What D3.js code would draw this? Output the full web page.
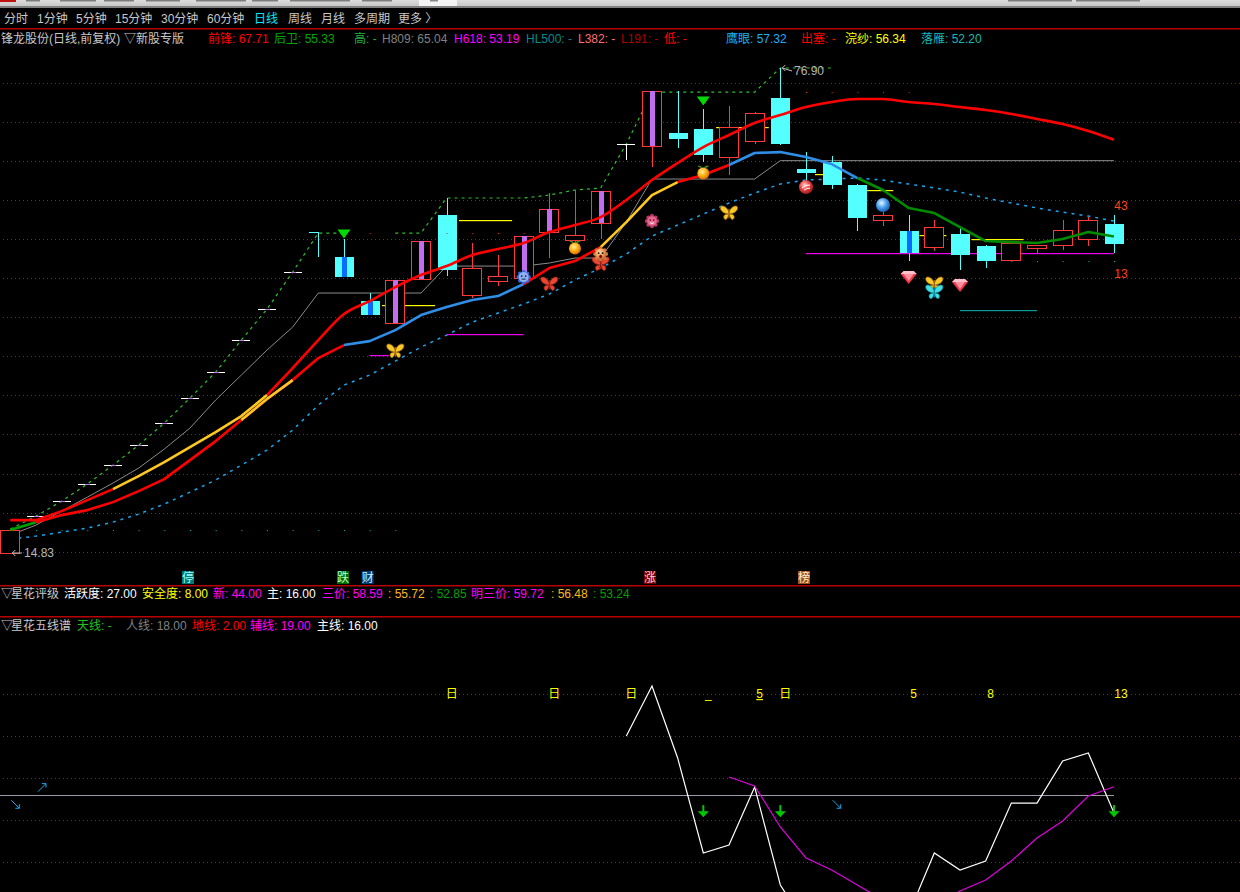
<!DOCTYPE html>
<html><head><meta charset="utf-8">
<style>html,body{margin:0;padding:0;background:#000;overflow:hidden}svg{display:block}
text{font-family:"Liberation Sans","Noto Sans CJK SC",sans-serif;font-size:12px}</style>
<script src="https://cdn.jsdelivr.net/npm/d3@7/dist/d3.min.js"></script></head><body><div id="c"></div>
<script>
// ---------- data ----------
const opens =[14.83,19.55,21.47,23.65,26.08,28.64,31.46,34.66,37.98,42.08,46.05,50.78,55.9,52.7,47.07,44.26,49.89,58.08,47.84,49.63,50.02,55.9,54.88,57.06,67.17,66.91,68.58,69.09,65.5,67.55,73.06,63.97,64.86,61.92,57.44,56.03,53.98,55.65,54.11,52.32,53.86,54.24,55.01,56.93];
const highs =[17.76,19.55,21.47,23.65,26.08,28.64,31.46,34.66,37.98,42.08,46.05,50.78,55.9,55.01,48.1,49.76,54.75,60.26,54.5,52.96,55.39,60.9,61.28,61.15,67.17,73.95,73.95,71.65,72.03,71.26,76.9,66.14,65.63,62.05,58.46,58.08,57.44,56.42,54.24,54.5,54.24,57.44,57.82,58.08];
const lows  =[14.83,19.55,21.47,23.65,26.08,28.64,31.46,34.66,37.98,42.08,46.05,50.78,52.7,50.14,45.28,44.26,49.89,50.27,47.46,48.99,50.02,52.58,53.34,55.01,65.12,64.22,66.66,64.86,63.2,67.17,67.04,62.3,61.41,56.03,56.67,52.19,53.6,51.04,51.3,52.32,53.22,53.6,54.11,53.22];
const closes=[17.76,19.55,21.47,23.65,26.08,28.64,31.46,34.66,37.98,42.08,46.05,50.78,55.88,50.14,45.28,49.76,54.75,51.04,51.3,50.27,55.39,58.85,55.52,61.15,67.17,73.95,67.81,65.76,69.34,71.14,67.17,63.46,61.92,57.7,58.08,53.22,56.54,52.96,52.19,54.5,54.24,56.16,57.44,54.37];
const purpleDays=[1,2,3,4,5,6,7,8,9,10,11,15,16,20,21,23,25];
const blueDays=[13,14,35];
const frontLine=[19.04,19.04,20.19,21.6,23.01,24.67,26.46,28.38,30.3,32.35,35.04,38.5,42.08,45.41,47.07,48.86,50.4,51.55,52.96,53.73,54.5,55.9,56.8,57.82,60,62.56,64.74,66.78,68.32,69.86,70.88,71.9,72.54,72.93,72.93,72.54,72.29,71.9,71.52,71.01,70.37,69.73,68.83,67.71];
const rearLine=[17.76,18.78,19.68,20.32,21.34,22.75,24.29,26.72,29.15,31.84,34.53,36.96,39.78,41.44,41.95,43.36,45.28,46.3,47.2,47.71,49.25,51.3,52.19,53.98,57.18,60.64,62.3,63.2,64.48,66.02,66.14,65.5,64.61,62.82,61.28,58.98,58.34,56.54,54.75,54.62,54.5,55.01,55.9,55.33];
const eagleLine=[16.61,16.99,17.5,18.02,18.78,19.81,21.09,22.62,24.16,26.08,28,30.56,33.76,36.32,37.6,39.39,41.18,42.72,44.38,45.54,46.69,47.97,49.76,51.3,53.09,55.39,56.8,58.21,59.62,60.9,62.05,62.56,62.69,62.82,62.56,62.05,61.54,61.02,60.26,59.62,58.98,58.46,57.95,57.32];
const h809Line=[17.12,18.4,20.19,21.98,23.78,25.7,28.13,30.82,34.4,37.6,40.8,43.74,48.1,48.1,48.1,48.1,48.1,51.55,51.55,51.55,51.55,51.94,52.58,52.58,57.18,62.69,62.69,62.69,62.69,62.69,65.04,65.04,65.04,65.04,65.04,65.04,65.04,65.04,65.04,65.04,65.04,65.04,65.04,65.04];
const limitLine=[17.89,19.55,21.47,23.65,26.08,28.64,31.46,34.66,37.98,42.08,46.05,50.78,55.78,55.78,null,55.78,55.78,60.26,60.26,60.26,60.26,60.64,61.28,61.54,67.17,73.82,73.82,73.82,73.82,73.82,76.9,76.9,76.9];
const priceGrid=[15,20,25,30,35,40,45,50,55,60,65,70,75];
const levelFrom=[14.48,17.48,14.0,27.5,31.35,33.35,35.42,37.45,31,37.0,17];
const levelTo  =[16.55,19.55,14.75,29.55,32.4,34.4,36.47,39.47,43,40.0,20];
const levelVal =[46.56,57.44,40.16,69.34,63.35,61.28,55.52,55.0,53.19,45.92,42.85];
const levelName=["y","y","m","y","y","y","y","y","m","t","m"];
const iconKind=["bfY","bfY","bfY","bfC","bfR","bfR","face","flower","gear","fruit","fruit","ballR","ballB","gem","gem"];
const iconDay =[15,28,36,36,21,23,23,25,20,22,27,31,34,35,37];
const iconVal =[40.67,58.34,49.25,48.22,49.25,51.81,53.09,57.31,50.14,53.98,63.58,61.66,59.36,50.02,48.99];
const triDay=[13,27], triVal=[55.65,72.67];
const dotDay=[1,2,3,4,5,6,7,8,9,10,11,12,13,14,15,36,38,39,40,41,42,43];
const dotVal=[17.76,17.76,17.76,17.76,17.76,17.76,17.76,17.76,17.76,17.76,17.76,17.76,17.76,17.76,17.76,53.6,52.19,52.19,52.19,52.19,52.19,52.19];
const redDotDay=[14,15,17,18,19,20,31,32,33,34,35];
const redDotVal=[55.78,55.78,55.78,55.78,55.78,55.78,73.82,73.82,73.82,73.82,73.82];
const mainLine=[24.8,30.51,22.29,11.43,12.34,18.97,7.77,3.2,1.5,1,2,4.46,11.43,9.49,10.51,17.14,17.14,21.94,22.86,16];
const mainStart=24;
const auxLine=[20.11,19.09,14.4,10.86,9.49,7.77,6.06,4.69,5.14,7.09,8.34,10.51,13.14,15.09,17.94,19];
const auxStart=28;
const humanVal=18;
const lowerGrid=[29.6,24.8,20,15.2,10.4];
const lowerMarks=["日","日","日","_","5","日","5","8","13"];
const lowerMarkDay=[17,21,24,27,29,30,35,38,43];
const downDay=[27,30,43], downVal=[16.9,16.9,16.9];
const cyanArrowDay=[0,1,32];
const cyanArrowVal=[17,18.9,17];
const menuItems=["分时","1分钟","5分钟","15分钟","30分钟","60分钟","日线","周线","月线","多周期","更多 〉"];
const headerItems=["锋龙股份(日线,前复权)","▽新股专版","前锋: 67.71","后卫: 55.33","高: -","H809: 65.04","H618: 53.19","HL500: -","L382: -","L191: -","低: -","鹰眼: 57.32","出塞: -","浣纱: 56.34","落雁: 52.20"];
const rateItems=["▽","星花评级","活跃度: 27.00","安全度: 8.00","新: 44.00","主: 16.00","三价: 58.59",": 55.72",": 52.85","明三价: 59.72",": 56.48",": 53.24"];
const fiveItems=["▽","星花五线谱","天线: -","人线: 18.00","地线: 2.00","辅线: 19.00","主线: 16.00"];
const flagItems=["停","跌","财","涨","榜"];
const flagDay=[7,13,14,25,31];
const maxPrice=76.90,minPrice=14.83;
const peakDay=30,lowDay=0;
const rightTop="43",rightBottom="13";

// ---------- layout ----------
const W=1240,H=892;
const svg=d3.select("#c").append("svg").attr("width",W).attr("height",H).style("background","#000");
const x=d3.scaleLinear().domain([0,43]).range([10.3,1114]);
const y=d3.scaleLinear().domain([minPrice,maxPrice]).range([553,68]);
const y2=d3.scaleLinear().domain([18,19]).range([795.5,786.75]);
const defs=svg.append("defs");
function grad(id,stops){const g=defs.append("radialGradient").attr("id",id).attr("cx","40%").attr("cy","35%").attr("r","70%");
 stops.forEach((s,i)=>g.append("stop").attr("offset",i/(stops.length-1)).attr("stop-color",s));}
grad("gR",["#ffd0d0","#e84040","#901818"]);grad("gB",["#e8f6ff","#48a0f0","#1850a8"]);grad("gO",["#fff2a0","#ffb010","#d06000"]);grad("gF",["#ffd8a8","#f0a060","#b86030"]);
defs.append("clipPath").attr("id","lower").append("rect").attr("x",0).attr("y",640).attr("width",W).attr("height",H-640);

// window strip
const strip=defs.append("linearGradient").attr("id","strip").attr("x2",0).attr("y2",1);
strip.append("stop").attr("offset",0).attr("stop-color","#dcdcdc");strip.append("stop").attr("offset",1).attr("stop-color","#c8c8c8");
svg.append("rect").attr("width",W).attr("height",6).attr("fill","url(#strip)");
svg.append("rect").attr("y",6).attr("width",W).attr("height",2).attr("fill","#808080");
svg.append("rect").attr("x",419).attr("width",38).attr("height",6).attr("fill","#f4f4f4");
svg.append("rect").attr("x",0).attr("width",16).attr("height",2).attr("fill","#c01010");
[[26,14],[60,36],[104,30],[146,34],[196,50],[252,26],[290,60],[362,30],[430,8],[1008,64],[1076,64]].forEach(d=>
 svg.append("rect").attr("x",d[0]).attr("width",d[1]).attr("height",1.5).attr("fill","#303030").attr("opacity",.55));
[28,585,616].forEach(v=>svg.append("rect").attr("y",v).attr("width",W).attr("height",1.5).attr("fill","#b80000"));

// grids via axes
function gridAxis(scale,vals){
 const g=svg.append("g").attr("transform",`translate(${W},0)`)
  .call(d3.axisLeft(scale).tickValues(vals).tickSize(W).tickFormat(""));
 g.select(".domain").remove();
 g.selectAll("line").attr("stroke","#d80000").attr("stroke-dasharray","1,3").attr("shape-rendering","crispEdges");
}
gridAxis(y,priceGrid);gridAxis(y2,lowerGrid);

// text helper
function row(items,xs,cols,yy){items.forEach((t,i)=>svg.append("text").attr("x",xs[i]).attr("y",yy).attr("fill",cols[i]).text(t));}
row(menuItems,[4,37,76,115,161,207,254,288,321,354,398],menuItems.map((d,i)=>i==6?"#00e8ff":"#c8c8c8"),23);
row(headerItems,[1,124,208,274,354,382,454,526,578,621,664,726,801,845,921],
 ["#c8c8c8","#c8c8c8","#ff0000","#00a800","#20b040","#808080","#ff00ff","#008c8c","#ff7070","#b00000","#ff0000","#18b0ff","#ff0000","#ffff00","#18b8b8"],43);
row(rateItems,[1,11,64,142,213,267,322,388,430,471,551,593],
 ["#c8c8c8","#c8c8c8","#fff","#ffff00","#ff00ff","#fff","#ff00ff","#ffb818","#00a000","#ff00ff","#ffb818","#00a000"],598);
row(fiveItems,[1,11,77,126,192,250,317],["#c8c8c8","#c8c8c8","#20c020","#808080","#ff0000","#ff00ff","#fff"],630);

// thin and dashed lines
const line=(sc,start=0)=>d3.line().defined(d=>d!==null).x((d,i)=>x(i+start)).y(d=>sc(d));
function plot(vals,sc,col,w,dash,start){return svg.append("path").datum(vals).attr("d",line(sc,start)).attr("fill","none").attr("stroke",col).attr("stroke-width",w).attr("stroke-dasharray",dash||null);}
plot(h809Line,y,"#8c8c8c",1);
plot(limitLine,y,"#2ec02e",1.2,"3,4");
plot(eagleLine,y,"#18a8f0",1.5,"3,5");

// levels
const levCol={y:"#ffff00",m:"#f000f0",t:"#089898"};
levelVal.forEach((v,i)=>svg.append("rect").attr("x",x(levelFrom[i])).attr("y",Math.round(y(v))).attr("width",x(levelTo[i])-x(levelFrom[i])).attr("height",1.2).attr("fill",levCol[levelName[i]]));

// candles
const bw=19;
const days=d3.range(opens.length);
const cg=svg.append("g").attr("shape-rendering","crispEdges");
days.forEach(i=>{
 const o=opens[i],c=closes[i],col=c>o?"#ff3838":c<o?"#54ffff":"#fff";
 const top=y(Math.max(o,c)),bot=y(Math.min(o,c)),cx=Math.round(x(i));
 cg.append("line").attr("x1",cx+.5).attr("x2",cx+.5).attr("y1",y(highs[i])).attr("y2",y(lows[i])).attr("stroke",col);
 if(c>o){cg.append("rect").attr("x",cx-bw/2).attr("y",top).attr("width",bw).attr("height",bot-top).attr("fill","#000").attr("stroke",col);}
 else if(c<o){if(bot-top>1)cg.append("rect").attr("x",cx-bw/2).attr("y",top).attr("width",bw).attr("height",bot-top).attr("fill",col);
   else cg.append("rect").attr("x",cx-9).attr("y",top).attr("width",9).attr("height",1).attr("fill",col);}
 else {cg.append("rect").attr("x",cx-9).attr("y",top).attr("width",18).attr("height",1).attr("fill",col);}
 if(blueDays.includes(i))cg.append("rect").attr("x",cx-2).attr("y",top).attr("width",5).attr("height",bot-top).attr("fill","#0a6cff");
 if(purpleDays.includes(i))cg.append("rect").attr("x",cx-2).attr("y",top).attr("width",5).attr("height",Math.max(1,bot-top)).attr("fill","#c46cf0");
});

// dots
dotDay.forEach((d,i)=>svg.append("rect").attr("x",x(d)).attr("y",y(dotVal[i])).attr("width",1).attr("height",1).attr("fill","#18b8b8"));
redDotDay.forEach((d,i)=>svg.append("rect").attr("x",x(d)).attr("y",y(redDotVal[i])).attr("width",1).attr("height",1).attr("fill","#ff2020"));

// thick multi-coloured lines
function thick(vals,segs){segs.forEach(s=>{
 const sub=vals.slice(s[0],s[1]+1);
 plot(sub,y,s[2],2.6,null,s[0]).attr("stroke-linejoin","round");
});}
thick(rearLine,[[0,1,"#00a000"],[1,13,"#ff0000"],[13,20,"#2f8fe8"],[20,23,"#ff0000"],[26,28,"#ff0000"],[28,33,"#2f8fe8"],[33,43,"#008c00"],[23,26,"#ffc81e"]]);
svg.append("path").datum(frontLine.slice(10)).attr("d",line(y,10).curve(d3.curveMonotoneX)).attr("fill","none").attr("stroke","#ff0000").attr("stroke-width",2.6);
thick(frontLine,[[0,4,"#ff0000"],[4,10,"#ffc81e"]]);
plot(rearLine.slice(9,12),y,"#ffc81e",2.6,null,9);

// lower panel
const lg=svg.append("g").attr("clip-path","url(#lower)");
lg.append("line").attr("x1",0).attr("x2",x(43)).attr("y1",y2(humanVal)).attr("y2",y2(humanVal)).attr("stroke","#9a9aa8");
lg.append("path").datum(mainLine).attr("d",line(y2,mainStart)).attr("fill","none").attr("stroke","#fff").attr("stroke-width",1.2);
lg.append("path").datum(auxLine).attr("d",line(y2,auxStart)).attr("fill","none").attr("stroke","#e000e0").attr("stroke-width",1.2);
lowerMarks.forEach((t,i)=>{const tx=svg.append("text").attr("x",x(lowerMarkDay[i])+(i===8?7:5)).attr("y",698).attr("text-anchor","middle").attr("fill","#ffff00").text(t);
 if(t==="5"&&i===4)tx.attr("text-decoration","underline");});
downDay.forEach((d,i)=>{const g=svg.append("g").attr("transform",`translate(${x(d)},${y2(downVal[i])})`);
 g.append("rect").attr("x",-1).attr("width",2).attr("height",7).attr("fill","#00c800");
 g.append("path").attr("d","M-5.5,6 L5.5,6 L0,12 Z").attr("fill","#00c800");});
cyanArrowDay.forEach((d,i)=>{const g=svg.append("g").attr("transform",`translate(${x(d)+(i==0?5:i==1?6:5)},${y2(cyanArrowVal[i])})`).attr("stroke","#18a8f0").attr("fill","none");
 if(i==1)g.append("path").attr("d","M-4,4 L4,-4 M0,-4 L4,-4 L4,0");
 else g.append("path").attr("d","M-4,-4 L4,4 M0,4 L4,4 L4,0");});

// triangles
triDay.forEach((d,i)=>svg.append("path").attr("transform",`translate(${x(d)},${y(triVal[i])})`).attr("d","M-6.5,-4.5 L6.5,-4.5 L0,4.5 Z").attr("fill","#00dc00"));

// icons
function butterfly(g,a,b){
 g.attr("transform",g.attr("transform")+" scale(1.05)");
 [1,-1].forEach(s=>{const w=g.append("g").attr("transform",`scale(${s},1)`);
  w.append("path").attr("d","M0,-1 C2,-6 6,-8 8,-6 C9,-3 6,0 1,1 C5,1 6,4 4,6 C2,7 1,4 0,1 Z").attr("fill",a).attr("stroke",b).attr("stroke-width",.7);});
 g.append("rect").attr("x",-.6).attr("y",-4).attr("width",1.2).attr("height",9).attr("fill",b);
}
function scallop(g,fill,r){d3.range(8).forEach(k=>g.append("circle").attr("cx",r*Math.cos(k*Math.PI/4)).attr("cy",r*Math.sin(k*Math.PI/4)).attr("r",2).attr("fill",fill));}
const iconDraw={
 bfY:g=>butterfly(g,"#f8c828","#a06810"),
 bfC:g=>butterfly(g,"#40e0e8","#108898"),
 bfR:g=>butterfly(g,"#e84830","#902018"),
 face:g=>{scallop(g,"#d07838",5.5);g.append("circle").attr("r",5.5).attr("fill","url(#gF)");
   g.append("circle").attr("cx",-2).attr("cy",-1).attr("r",.9);g.append("circle").attr("cx",2).attr("cy",-1).attr("r",.9);g.append("ellipse").attr("cy",2.5).attr("rx",1.5).attr("ry",1.8).attr("fill","#801010");},
 flower:g=>{scallop(g,"#b83868",5.2);g.append("circle").attr("r",4.8).attr("fill","#e86890");
   g.append("circle").attr("cx",-1.8).attr("cy",-1).attr("r",.8).attr("fill","#400");g.append("circle").attr("cx",1.8).attr("cy",-1).attr("r",.8).attr("fill","#400");g.append("path").attr("d","M-2,1.5 Q0,3.5 2,1.5").attr("stroke","#fff").attr("fill","none");},
 gear:g=>{scallop(g,"#3868d8",5.2);g.append("circle").attr("r",5).attr("fill","#90b0f0");
   g.append("circle").attr("cx",-2).attr("cy",-1).attr("r",.9).attr("fill","#102060");g.append("circle").attr("cx",2).attr("cy",-1).attr("r",.9).attr("fill","#102060");g.append("path").attr("d","M-2,2 L2,2").attr("stroke","#102060");},
 fruit:g=>{g.append("circle").attr("cy",1.5).attr("r",6).attr("fill","url(#gO)");
   g.append("path").attr("d","M0,-4 C-3,-7 -5,-7 -6,-6 C-4,-4 -2,-4 0,-4 C2,-7 4,-7 6,-6 C4,-4 2,-4 0,-4 Z").attr("fill","#487818");},
 ballR:g=>{g.append("circle").attr("r",7).attr("fill","url(#gR)");g.append("path").attr("d","M-4,1 Q0,-3 4,-2 M-2,3 Q1,1 4,1").attr("stroke","#fff").attr("fill","none");},
 ballB:g=>g.append("circle").attr("r",7).attr("fill","url(#gB)"),
 gem:g=>{g.append("path").attr("d","M-8,-4 L-5,-7 L5,-7 L8,-4 L0,6 Z").attr("fill","#f03848");
   g.append("path").attr("d","M-5,-4 L5,-4 L0,3 Z").attr("fill","#ff90a0");g.append("path").attr("d","M-5,-7 L5,-7 L8,-4 L-8,-4 Z").attr("fill","#ffc0c8");}
};
iconKind.forEach((k,i)=>{const g=svg.append("g").attr("transform",`translate(${x(iconDay[i])},${y(iconVal[i])})`);iconDraw[k](g);});

// extremes
function mark(day,val,tx,label,dy){
 svg.append("path").attr("d",`M${x(day)+2},${y(val)} L${tx-2},${y(val)+dy} M${x(day)+5},${y(val)-3} L${x(day)+2},${y(val)} L${x(day)+5},${y(val)+3}`).attr("stroke","#c0c0c0").attr("fill","none");
 svg.append("text").attr("x",tx).attr("y",y(val)+dy+4).attr("fill","#b8b8b8").text(label);
}
mark(peakDay,maxPrice,794,maxPrice.toFixed(2),3);
mark(lowDay,minPrice,24,minPrice.toFixed(2),0);
svg.append("text").attr("x",x(43)+7).attr("y",210).attr("text-anchor","middle").attr("fill","#ff4418").text(rightTop);
svg.append("text").attr("x",x(43)+7).attr("y",278).attr("text-anchor","middle").attr("fill","#ff4418").text(rightBottom);

// bottom flags
const flagBg=["#007878","#006c00","#003c70","#780000","#a05020"],flagFg=["#9ff","#bfb","#cef","#fcc","#fec"];
flagItems.forEach((t,i)=>{const cx=x(flagDay[i])+(i==1?-1:-2);
 svg.append("rect").attr("x",cx-6).attr("y",571).attr("width",12).attr("height",13).attr("fill",flagBg[i]);
 svg.append("text").attr("x",cx).attr("y",582).attr("text-anchor","middle").attr("fill",flagFg[i]).text(t);});
</script></body></html>
